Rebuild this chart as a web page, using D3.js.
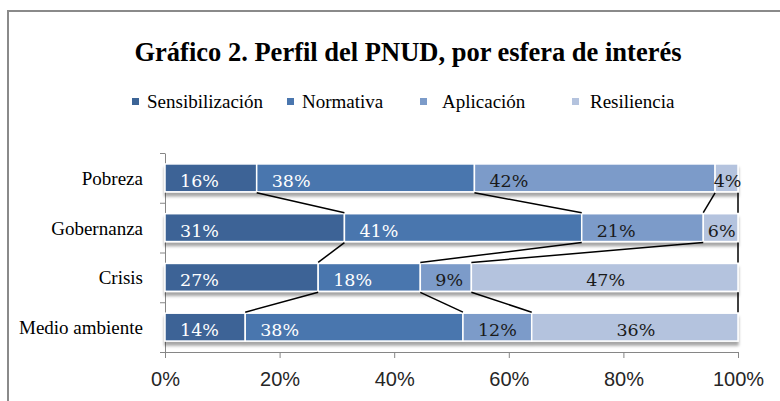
<!DOCTYPE html>
<html>
<head>
<meta charset="utf-8">
<script src="https://cdn.jsdelivr.net/npm/d3@7"></script>
<style>
  body { margin: 0; background: #fff; }
  svg { display: block; }
</style>
</head>
<body>
<div id="chart"></div>
<script>
const categories = ["Pobreza", "Gobernanza", "Crisis", "Medio ambiente"];
const seriesNames = ["Sensibilización", "Normativa", "Aplicación", "Resiliencia"];
const sensibilizacion = [16, 31, 27, 14];
const normativa = [38, 41, 18, 38];
const aplicacion = [42, 21, 9, 12];
const resiliencia = [4, 6, 47, 36];
const xTicks = [0, 0.2, 0.4, 0.6, 0.8, 1];

const colors = ["#3c6496", "#4a76ae", "#7c9bc9", "#b4c3de"];

const w = 780, h = 401;
const svg = d3.select("#chart").append("svg").attr("width", w).attr("height", h);

const defs = svg.append("defs");
defs.append("filter").attr("id", "shadow")
  .attr("x", "-5%").attr("y", "-20%").attr("width", "110%").attr("height", "160%")
  .append("feDropShadow")
  .attr("dx", 0).attr("dy", 4).attr("stdDeviation", 1.8)
  .attr("flood-color", "#000").attr("flood-opacity", 0.35);

// outer frame (cut off at right and bottom)
svg.append("path")
  .attr("d", "M8,420 L8,11 L790,11")
  .attr("fill", "none")
  .attr("stroke", "#8a8a8a")
  .attr("stroke-width", 2);

svg.append("text")
  .text("Gráfico 2. Perfil del PNUD, por esfera de interés")
  .attr("x", 408).attr("y", 61)
  .attr("text-anchor", "middle")
  .attr("font-family", "Liberation Serif, Times New Roman, serif")
  .attr("font-weight", "bold")
  .attr("font-size", 26.5)
  .attr("fill", "#000");

// legend
const legendX = [132, 287, 420, 572];
const legend = svg.append("g");
seriesNames.forEach((s, i) => {
  legend.append("rect")
    .attr("x", legendX[i]).attr("y", 98)
    .attr("width", 7).attr("height", 7)
    .attr("fill", colors[i]);
  legend.append("text")
    .text(s)
    .attr("x", legendX[i] + (i === 2 ? 22 : i === 3 ? 18 : 15)).attr("y", 108)
    .attr("font-family", "Liberation Serif, Times New Roman, serif")
    .attr("font-size", 19)
    .attr("fill", "#000");
});

const rows = categories.map((c, i) => ({
  cat: c,
  "Sensibilización": sensibilizacion[i],
  "Normativa": normativa[i],
  "Aplicación": aplicacion[i],
  "Resiliencia": resiliencia[i]
}));

const stack = d3.stack().keys(seriesNames).offset(d3.stackOffsetExpand);
const stacked = stack(rows);

const x = d3.scaleLinear().domain([0, 1]).range([165, 738]);
const y = d3.scaleBand().domain(categories).range([153, 352]).paddingInner(0.44).paddingOuter(0.22);
const yEdge = d3.scaleLinear().domain([0, categories.length]).range([153, 352]);
const bw = y.bandwidth();

// axes
const xAxis = svg.append("g")
  .attr("transform", "translate(0,352)")
  .call(d3.axisBottom(x).tickValues(xTicks).tickFormat(d3.format(".0%")).tickSize(6).tickPadding(14).tickSizeOuter(0));
xAxis.select(".domain").attr("stroke", "#868686");
xAxis.selectAll(".tick line").attr("stroke", "#868686");
xAxis.selectAll(".tick text")
  .attr("font-family", "Liberation Sans, Arial, sans-serif")
  .attr("font-size", 20)
  .attr("fill", "#262626");

const yAxis = svg.append("g")
  .attr("transform", "translate(165,0)")
  .call(d3.axisLeft(yEdge).tickValues(d3.range(categories.length + 1)).tickFormat("").tickSize(5).tickSizeOuter(0));
yAxis.select(".domain").attr("stroke", "#868686");
yAxis.selectAll(".tick line").attr("stroke", "#868686");

svg.append("g").selectAll("text")
  .data(categories)
  .join("text")
  .text(d => d)
  .attr("x", 143)
  .attr("y", d => y(d) + bw / 2 + 7)
  .attr("text-anchor", "end")
  .attr("font-family", "Liberation Serif, Times New Roman, serif")
  .attr("font-size", 19)
  .attr("fill", "#000");

// bars
const barsG = svg.append("g").attr("filter", "url(#shadow)");
stacked.forEach((s, j) => {
  barsG.append("g").selectAll("rect")
    .data(s)
    .join("rect")
    .attr("x", d => x(d[0]))
    .attr("y", d => y(d.data.cat))
    .attr("width", d => x(d[1]) - x(d[0]))
    .attr("height", bw)
    .attr("fill", colors[j])
    .attr("stroke", "#fff")
    .attr("stroke-width", 1.5);
});

// series lines between bars
const lines = svg.append("g");
stacked.forEach((s, j) => {
  for (let i = 0; i < categories.length - 1; i++) {
    lines.append("line")
      .attr("x1", x(s[i][1])).attr("y1", y(categories[i]) + bw + 1)
      .attr("x2", x(s[i + 1][1])).attr("y2", y(categories[i + 1]) - 1)
      .attr("stroke", "#000")
      .attr("stroke-width", 1.5);
  }
});

// labels
const labelsG = svg.append("g");
stacked.forEach((s, j) => {
  labelsG.append("g").selectAll("text")
    .data(s)
    .join("text")
    .text(d => d.data[seriesNames[j]] + "%")
    .attr("x", d => j === 3 ? (x(d[0]) + x(d[1])) / 2 + 1 : x(d[0]) + 15)
    .attr("y", d => y(d.data.cat) + bw / 2 + 9)
    .attr("text-anchor", j === 3 ? "middle" : "start")
    .attr("font-family", "DejaVu Serif, serif")
    .attr("font-size", 17.5)
    .attr("fill", j < 2 ? "#fff" : "#1a1a1a");
});
</script>
</body>
</html>
